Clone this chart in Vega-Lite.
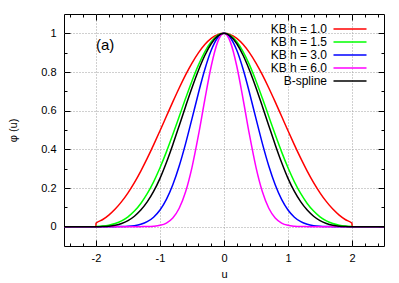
{
  "$schema": "https://vega.github.io/schema/vega-lite/v6.json",
  "width": 320,
  "height": 232,
  "autosize": {"type": "none"},
  "padding": {"left": 64, "top": 14, "right": 15, "bottom": 37},
  "config": {
    "font": "Liberation Sans",
    "view": {"stroke": "#000", "strokeWidth": 1},
    "axis": {
      "domain": false,
      "labelFont": "Liberation Sans",
      "labelFontSize": 11,
      "labelColor": "#000",
      "titleFont": "Liberation Sans",
      "titleFontSize": 11,
      "titleFontWeight": "normal",
      "titleColor": "#000",
      "tickColor": "#000",
      "tickWidth": 1,
      "gridColor": "#a0a0a0",
      "gridDash": [1, 2],
      "gridWidth": 1,
      "labelOverlap": false,
      "labelFlush": false
    }
  },
  "resolve": {"axis": {"x": "independent", "y": "independent"}},
  "layer": [
    {
      "data": {
        "values": [
          {"u": -2.5, "k1": 0, "k15": 0, "k3": 0, "k6": 0, "bs": 0},
          {"u": -2.001, "k1": 0, "k15": 0, "k3": 0, "k6": 0, "bs": 0},
          {"u": -2.0, "k1": 0.0178, "k15": 0.0006, "k3": 0, "k6": 0, "bs": 0},
          {"u": -1.9, "k1": 0.0358, "k15": 0.0029, "k3": 0, "k6": 0, "bs": 0.0003},
          {"u": -1.8, "k1": 0.0600, "k15": 0.0076, "k3": 0, "k6": 0, "bs": 0.002},
          {"u": -1.7, "k1": 0.0911, "k15": 0.0162, "k3": 0.0002, "k6": 0, "bs": 0.0068},
          {"u": -1.6, "k1": 0.1295, "k15": 0.0301, "k3": 0.0007, "k6": 0, "bs": 0.016},
          {"u": -1.5, "k1": 0.1752, "k15": 0.0510, "k3": 0.0021, "k6": 0, "bs": 0.0313},
          {"u": -1.4, "k1": 0.2280, "k15": 0.0805, "k3": 0.0054, "k6": 0, "bs": 0.054},
          {"u": -1.3, "k1": 0.2876, "k15": 0.1200, "k3": 0.0124, "k6": 0.0002, "bs": 0.0858},
          {"u": -1.2, "k1": 0.3529, "k15": 0.1704, "k3": 0.0258, "k6": 0.0006, "bs": 0.128},
          {"u": -1.1, "k1": 0.4229, "k15": 0.2321, "k3": 0.0490, "k6": 0.0022, "bs": 0.1823},
          {"u": -1.0, "k1": 0.4961, "k15": 0.3047, "k3": 0.0860, "k6": 0.0069, "bs": 0.25},
          {"u": -0.9, "k1": 0.5708, "k15": 0.3868, "k3": 0.1409, "k6": 0.0188, "bs": 0.3318},
          {"u": -0.8, "k1": 0.6452, "k15": 0.4762, "k3": 0.2165, "k6": 0.0449, "bs": 0.424},
          {"u": -0.7, "k1": 0.7172, "k15": 0.5698, "k3": 0.3136, "k6": 0.0952, "bs": 0.5223},
          {"u": -0.6, "k1": 0.7848, "k15": 0.6638, "k3": 0.4297, "k6": 0.1804, "bs": 0.622},
          {"u": -0.5, "k1": 0.8460, "k15": 0.7538, "k3": 0.5586, "k6": 0.3070, "bs": 0.7188},
          {"u": -0.4, "k1": 0.8990, "k15": 0.8354, "k3": 0.6903, "k6": 0.4717, "bs": 0.808},
          {"u": -0.3, "k1": 0.9421, "k15": 0.9041, "k3": 0.8125, "k6": 0.6565, "bs": 0.8853},
          {"u": -0.2, "k1": 0.9739, "k15": 0.9563, "k3": 0.9121, "k6": 0.8299, "bs": 0.946},
          {"u": -0.1, "k1": 0.9934, "k15": 0.9889, "k3": 0.9773, "k6": 0.9545, "bs": 0.9858},
          {"u": 0.0, "k1": 1, "k15": 1, "k3": 1, "k6": 1, "bs": 1},
          {"u": 0.1, "k1": 0.9934, "k15": 0.9889, "k3": 0.9773, "k6": 0.9545, "bs": 0.9858},
          {"u": 0.2, "k1": 0.9739, "k15": 0.9563, "k3": 0.9121, "k6": 0.8299, "bs": 0.946},
          {"u": 0.3, "k1": 0.9421, "k15": 0.9041, "k3": 0.8125, "k6": 0.6565, "bs": 0.8853},
          {"u": 0.4, "k1": 0.8990, "k15": 0.8354, "k3": 0.6903, "k6": 0.4717, "bs": 0.808},
          {"u": 0.5, "k1": 0.8460, "k15": 0.7538, "k3": 0.5586, "k6": 0.3070, "bs": 0.7188},
          {"u": 0.6, "k1": 0.7848, "k15": 0.6638, "k3": 0.4297, "k6": 0.1804, "bs": 0.622},
          {"u": 0.7, "k1": 0.7172, "k15": 0.5698, "k3": 0.3136, "k6": 0.0952, "bs": 0.5223},
          {"u": 0.8, "k1": 0.6452, "k15": 0.4762, "k3": 0.2165, "k6": 0.0449, "bs": 0.424},
          {"u": 0.9, "k1": 0.5708, "k15": 0.3868, "k3": 0.1409, "k6": 0.0188, "bs": 0.3318},
          {"u": 1.0, "k1": 0.4961, "k15": 0.3047, "k3": 0.0860, "k6": 0.0069, "bs": 0.25},
          {"u": 1.1, "k1": 0.4229, "k15": 0.2321, "k3": 0.0490, "k6": 0.0022, "bs": 0.1823},
          {"u": 1.2, "k1": 0.3529, "k15": 0.1704, "k3": 0.0258, "k6": 0.0006, "bs": 0.128},
          {"u": 1.3, "k1": 0.2876, "k15": 0.1200, "k3": 0.0124, "k6": 0.0002, "bs": 0.0858},
          {"u": 1.4, "k1": 0.2280, "k15": 0.0805, "k3": 0.0054, "k6": 0, "bs": 0.054},
          {"u": 1.5, "k1": 0.1752, "k15": 0.0510, "k3": 0.0021, "k6": 0, "bs": 0.0313},
          {"u": 1.6, "k1": 0.1295, "k15": 0.0301, "k3": 0.0007, "k6": 0, "bs": 0.016},
          {"u": 1.7, "k1": 0.0911, "k15": 0.0162, "k3": 0.0002, "k6": 0, "bs": 0.0068},
          {"u": 1.8, "k1": 0.0600, "k15": 0.0076, "k3": 0, "k6": 0, "bs": 0.002},
          {"u": 1.9, "k1": 0.0358, "k15": 0.0029, "k3": 0, "k6": 0, "bs": 0.0003},
          {"u": 2.0, "k1": 0.0178, "k15": 0.0006, "k3": 0, "k6": 0, "bs": 0},
          {"u": 2.001, "k1": 0, "k15": 0, "k3": 0, "k6": 0, "bs": 0},
          {"u": 2.5, "k1": 0, "k15": 0, "k3": 0, "k6": 0, "bs": 0}
        ]
      },
      "transform": [{"fold": ["k1", "k15", "k3", "k6", "bs"], "as": ["s", "y"]}],
      "mark": {"type": "line", "interpolate": "monotone", "strokeWidth": 1.5},
      "encoding": {
        "x": {
          "field": "u", "type": "quantitative",
          "scale": {"domain": [-2.5, 2.5], "nice": false, "zero": false},
          "axis": {
            "orient": "bottom",
            "title": "u",
            "values": [-2.4, -2.2, -2, -1.8, -1.6, -1.4, -1.2, -1, -0.8, -0.6, -0.4, -0.2, 0, 0.2, 0.4, 0.6, 0.8, 1, 1.2, 1.4, 1.6, 1.8, 2, 2.2, 2.4],
            "labelExpr": "abs(datum.value - round(datum.value)) < 0.001 ? '' + datum.value : ''",
            "tickSize": {"condition": {"test": "abs(datum.value - round(datum.value)) < 0.001", "value": -6}, "value": -3},
            "grid": true,
            "gridOpacity": {"condition": {"test": "abs(datum.value - round(datum.value)) < 0.001", "value": 1}, "value": 0},
            "labelPadding": 12,
            "titlePadding": 2
          }
        },
        "y": {
          "field": "y", "type": "quantitative",
          "scale": {"domain": [-0.1, 1.1], "nice": false, "zero": false},
          "axis": {
            "orient": "left",
            "title": "φ (u)",
            "values": [0, 0.1, 0.2, 0.3, 0.4, 0.5, 0.6, 0.7, 0.8, 0.9, 1],
            "labelExpr": "abs(datum.value * 5 - round(datum.value * 5)) < 0.001 ? '' + datum.value : ''",
            "tickSize": {"condition": {"test": "abs(datum.value * 5 - round(datum.value * 5)) < 0.001", "value": -6}, "value": -3},
            "grid": true,
            "gridOpacity": {"condition": {"test": "abs(datum.value * 5 - round(datum.value * 5)) < 0.001", "value": 1}, "value": 0},
            "labelPadding": 14,
            "titlePadding": 22
          }
        },
        "color": {
          "field": "s", "type": "nominal",
          "scale": {"domain": ["k1", "k15", "k3", "k6", "bs"], "range": ["#ff0000", "#00ff00", "#0000ff", "#ff00ff", "#000000"]},
          "legend": {
            "orient": "none",
            "legendX": 279,
            "legendY": 8,
            "title": null,
            "padding": 0,
            "symbolType": "M-2.75,0H2.75",
            "symbolSize": 144,
            "symbolStrokeWidth": 1.5,
            "labelAlign": "right",
            "labelOffset": -30,
            "labelFont": "Liberation Sans",
            "labelFontSize": 12,
            "labelColor": "#000",
            "rowPadding": 0,
            "labelExpr": "{'k1': 'KB h = 1.0', 'k15': 'KB h = 1.5', 'k3': 'KB h = 3.0', 'k6': 'KB h = 6.0', 'bs': 'B-spline'}[datum.label]"
          }
        }
      }
    },
    {
      "data": {"values": [{"u": -2, "y": 0.94, "t": "(a)"}]},
      "mark": {"type": "text", "align": "left", "baseline": "middle", "fontSize": 15, "font": "Liberation Sans", "color": "#000"},
      "encoding": {
        "x": {
          "field": "u", "type": "quantitative",
          "axis": {
            "orient": "top",
            "title": null,
            "labels": false,
            "grid": false,
            "values": [-2.4, -2.2, -2, -1.8, -1.6, -1.4, -1.2, -1, -0.8, -0.6, -0.4, -0.2, 0, 0.2, 0.4, 0.6, 0.8, 1, 1.2, 1.4, 1.6, 1.8, 2, 2.2, 2.4],
            "tickSize": {"condition": {"test": "abs(datum.value - round(datum.value)) < 0.001", "value": -6}, "value": -3}
          }
        },
        "y": {
          "field": "y", "type": "quantitative",
          "axis": {
            "orient": "right",
            "title": null,
            "labels": false,
            "grid": false,
            "values": [0, 0.1, 0.2, 0.3, 0.4, 0.5, 0.6, 0.7, 0.8, 0.9, 1],
            "tickSize": {"condition": {"test": "abs(datum.value * 5 - round(datum.value * 5)) < 0.001", "value": -6}, "value": -3}
          }
        },
        "text": {"field": "t"}
      }
    }
  ]
}
